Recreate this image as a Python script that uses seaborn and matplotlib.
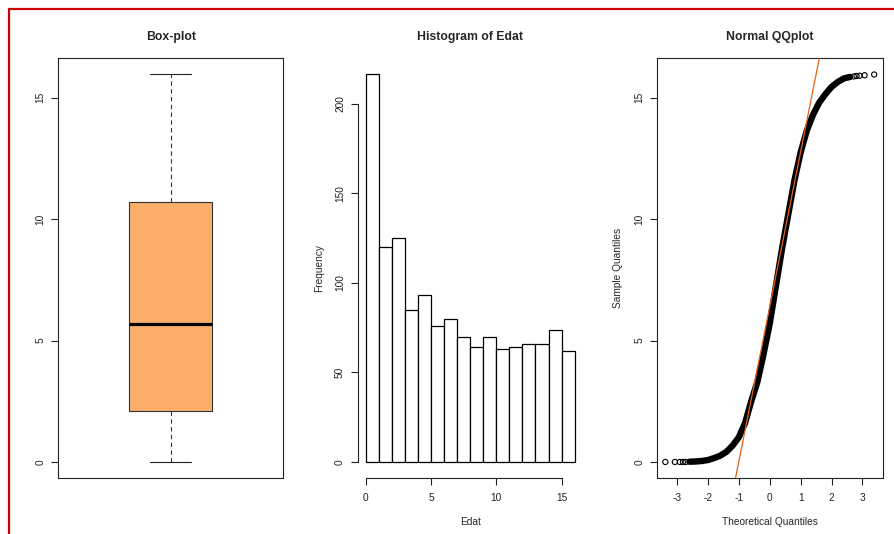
import matplotlib
matplotlib.use("Agg")
import matplotlib.pyplot as plt
from matplotlib.lines import Line2D
import seaborn as sns

# Edat: five-number summary read from the box-plot (min, Q1, median, Q3, max)
box_summary = [0.0, 2.1, 5.7, 10.7, 16.0]

# Histogram of Edat, unit-width bins from 0 to 16
hist_edges = list(range(17))
hist_counts = [217, 120, 125, 85, 93, 76, 80, 70, 64, 70, 63, 64, 66, 66, 74, 62]

# Normal QQ plot: points
qq_theoretical = [-3.38, -3.07, -2.91, -2.81, -2.72, -2.6, -2.4, -2.2, -2.0, -1.8,
                  -1.6, -1.4, -1.2, -1.0, -0.8, -0.6, -0.4, -0.2, 0.0, 0.2,
                  0.4, 0.6, 0.8, 1.0, 1.2, 1.4, 1.6, 1.8, 2.0, 2.2,
                  2.4, 2.6, 2.72, 2.81, 2.91, 3.07, 3.38]
qq_sample = [0.0, 0.0, 0.0, 0.0, 0.0, 0.01, 0.02, 0.04, 0.08, 0.16,
             0.26, 0.42, 0.68, 1.02, 1.6, 2.5, 3.3, 4.45, 5.7, 7.25,
             8.8, 10.2, 11.6, 12.75, 13.65, 14.3, 14.8, 15.15, 15.45, 15.65,
             15.8, 15.86, 15.88, 15.9, 15.91, 15.93, 15.96]

sns.set_style('ticks')
plt.rcParams['font.family'] = ['Liberation Sans', 'DejaVu Sans']
plt.rcParams['axes.edgecolor'] = '#222222'
plt.rcParams['axes.linewidth'] = 0.8
plt.rcParams['axes.unicode_minus'] = False

fig = plt.figure(figsize=(8.94, 5.34), dpi=100)
W, H = 894, 534


def add_panel(x0):
    return fig.add_axes([x0 / W, (H - 477.5) / H, 225.5 / W, 419.5 / H])


TICK = 7.3
TITLE = 8.8


def style_yticks(ax):
    ax.tick_params(axis='y', labelsize=TICK, length=5, width=0.8, pad=4, colors='#222222')
    for lab in ax.get_yticklabels():
        lab.set_rotation(90)
        lab.set_va('center')


# ---- Box-plot
ax1 = add_panel(58)
sns.boxplot(y=box_summary, ax=ax1, width=0.366, color='#FDAE6B', saturation=1,
            linecolor='#333333', linewidth=0.8, showfliers=False,
            medianprops=dict(color='black', linewidth=2.3),
            whiskerprops=dict(linestyle=(0, (4, 3)), color='#333333'),
            capprops=dict(color='#222222'))
ax1.set_xlim(-0.5, 0.5)
ax1.set_ylim(-0.64, 16.64)
ax1.set_yticks([0, 5, 10, 15])
ax1.set_xticks([])
ax1.set_ylabel('')
style_yticks(ax1)
ax1.set_title('Box-plot', fontsize=TITLE, fontweight='bold', pad=13)

# ---- Histogram
ax2 = add_panel(357.5)
sns.histplot(x=hist_edges[:-1], weights=hist_counts, bins=hist_edges, ax=ax2,
             color='white', edgecolor='black', linewidth=0.9, alpha=1)
ax2.set_xlim(-0.64, 16.64)
ax2.set_ylim(-8.68, 225.68)
ax2.set_xticks([0, 5, 10, 15])
ax2.set_yticks([0, 50, 100, 150, 200])
ax2.spines['top'].set_visible(False)
ax2.spines['right'].set_visible(False)
ax2.spines['left'].set_bounds(0, 200)
ax2.spines['bottom'].set_bounds(0, 15)
ax2.tick_params(axis='x', labelsize=TICK, length=5, width=0.8, pad=6, colors='#222222')
style_yticks(ax2)
ax2.set_xlabel('Edat', fontsize=TICK, labelpad=10)
ax2.set_ylabel('Frequency', fontsize=TICK, labelpad=8)
ax2.set_title('Histogram of Edat', fontsize=TITLE, fontweight='bold', pad=13)

# ---- Normal QQ plot
ax3 = add_panel(657)
mid_t = [t for t in qq_theoretical if abs(t) < 2.7]
mid_s = [s for t, s in zip(qq_theoretical, qq_sample) if abs(t) < 2.7]
tail_t = [t for t in qq_theoretical if abs(t) >= 2.7]
tail_s = [s for t, s in zip(qq_theoretical, qq_sample) if abs(t) >= 2.7]
sns.lineplot(x=mid_t, y=mid_s, ax=ax3, color='black', linewidth=4.6,
             solid_capstyle='round')
sns.scatterplot(x=tail_t, y=tail_s, ax=ax3, marker='o', s=14,
                facecolor='none', edgecolor='black', linewidth=0.8)
q1, q3 = box_summary[1], box_summary[3]
ax3.axline((-0.6745, q1), (0.6745, q3), color='#E6620F', linewidth=0.9, zorder=5)
ax3.set_xlim(-3.65, 3.65)
ax3.set_ylim(-0.64, 16.64)
ax3.set_xticks([-3, -2, -1, 0, 1, 2, 3])
ax3.set_yticks([0, 5, 10, 15])
ax3.tick_params(axis='x', labelsize=TICK, length=5, width=0.8, pad=6, colors='#222222')
style_yticks(ax3)
ax3.set_xlabel('Theoretical Quantiles', fontsize=TICK, labelpad=10)
ax3.set_ylabel('Sample Quantiles', fontsize=TICK, labelpad=8)
ax3.set_title('Normal QQplot', fontsize=TITLE, fontweight='bold', pad=13)

# red frame along the top and left edges
fig.add_artist(Line2D([9 / W, 1], [1 - 9 / H, 1 - 9 / H], transform=fig.transFigure,
                      color='#CC0000', linewidth=1.6))
fig.add_artist(Line2D([9 / W, 9 / W], [0, 1 - 9 / H], transform=fig.transFigure,
                      color='#CC0000', linewidth=1.6))

fig.savefig('out.png', dpi=100, facecolor='white')
